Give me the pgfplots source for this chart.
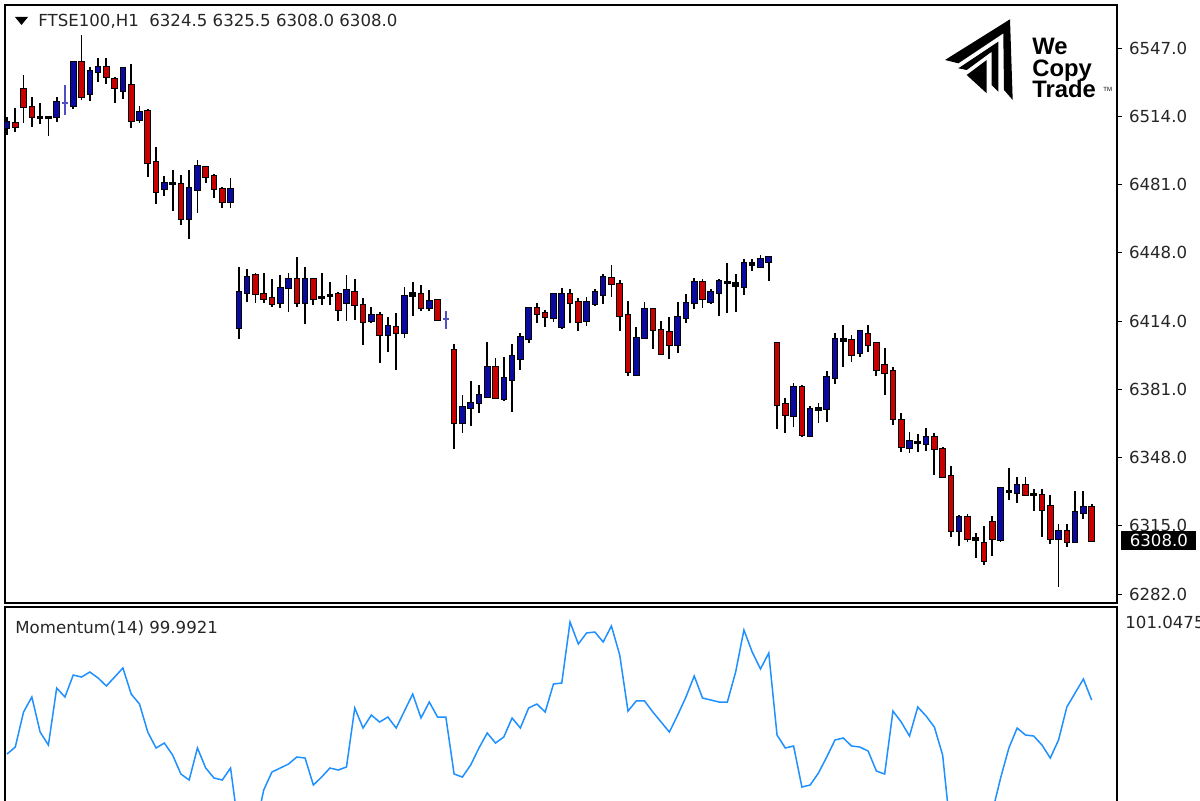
\documentclass[border=0pt]{standalone}
\usepackage{pgfplots}
\usepackage{pgfplotstable}
\pgfplotsset{compat=1.18}
\usepackage{fontspec}
\setmainfont{DejaVu Sans}
\newfontfamily\logofont{Liberation Sans}

\definecolor{bull}{HTML}{0A0AA0}
\definecolor{bear}{HTML}{C80000}
\definecolor{thinbull}{HTML}{5050C0}
\definecolor{mom}{HTML}{1E90FF}

% t: 1 = up candle, 2 = down candle, 0 = doji, 3 = flat up bar
\pgfplotstableread{
i t o h l c
1 1 6508.2 6513.5 6504.8 6511.1
2 2 6510.6 6517.9 6506.2 6508.7
3 2 6527.1 6533.9 6510.6 6518.4
4 2 6518.4 6523.2 6508.7 6513.5
5 0 6513.5 6520.3 6510.1 6513.0
6 0 6513.0 6514.0 6504.3 6513.5
7 1 6513.5 6523.2 6511.1 6520.8
8 3 6520.5 6529.0 6514.5 6520.5
9 1 6518.9 6540.2 6517.4 6540.2
10 2 6540.2 6553.3 6521.8 6523.2
11 1 6524.7 6537.8 6521.3 6535.8
12 1 6535.4 6542.2 6530.5 6537.8
13 2 6537.8 6542.2 6529.5 6532.9
14 2 6532.0 6532.9 6520.3 6527.6
15 1 6526.1 6537.8 6522.3 6537.3
16 2 6529.0 6539.2 6508.2 6511.6
17 1 6512.1 6518.9 6510.6 6516.0
18 2 6516.4 6517.4 6484.4 6491.2
19 2 6491.7 6499.0 6471.3 6477.1
20 1 6478.6 6484.9 6475.2 6481.5
21 0 6481.5 6487.8 6467.9 6481.0
22 2 6481.0 6485.4 6461.1 6464.0
23 1 6464.0 6487.8 6454.3 6479.1
24 1 6478.1 6492.7 6466.9 6489.7
25 2 6489.3 6489.7 6481.5 6484.4
26 2 6484.9 6485.9 6474.2 6478.6
27 2 6478.6 6479.5 6469.4 6472.3
28 1 6472.3 6483.9 6469.4 6478.6
29 1 6411.1 6440.7 6405.8 6428.6
30 1 6428.1 6439.8 6423.7 6435.9
31 2 6436.8 6437.8 6423.3 6427.6
32 2 6427.6 6437.8 6423.3 6425.2
33 2 6425.7 6434.9 6421.3 6422.8
34 1 6423.3 6436.8 6420.8 6430.5
35 1 6430.5 6437.8 6418.9 6434.9
36 2 6434.9 6445.6 6421.3 6423.3
37 1 6423.3 6440.7 6413.1 6434.9
38 2 6434.9 6434.9 6422.3 6425.2
39 0 6426.2 6437.8 6422.3 6425.7
40 0 6427.1 6433.4 6422.3 6426.7
41 2 6427.6 6428.6 6414.5 6419.9
42 1 6423.3 6436.8 6414.5 6429.6
43 2 6428.6 6434.9 6415.0 6422.3
44 2 6422.3 6425.7 6402.9 6414.0
45 1 6414.5 6421.3 6413.5 6417.4
46 2 6417.4 6418.9 6394.1 6407.7
47 1 6407.7 6416.5 6399.5 6412.1
48 2 6411.6 6418.4 6390.7 6408.7
49 1 6408.7 6431.0 6406.3 6426.7
50 0 6426.7 6433.4 6417.0 6428.1
51 2 6427.6 6432.0 6419.4 6420.8
52 1 6420.8 6429.6 6419.4 6424.2
53 2 6424.7 6424.7 6414.5 6415.0
54 3 6415.5 6419.4 6410.6 6415.5
55 2 6400.4 6403.4 6352.4 6365.0
56 1 6365.0 6378.6 6360.2 6372.8
57 1 6372.3 6385.4 6363.6 6374.7
58 1 6374.7 6383.5 6369.9 6378.6
59 1 6377.6 6404.3 6377.2 6392.2
60 2 6392.2 6396.6 6376.7 6377.2
61 1 6376.7 6397.0 6375.7 6386.9
62 1 6385.9 6403.4 6370.4 6397.5
63 1 6396.1 6408.7 6390.7 6406.8
64 1 6405.8 6420.8 6403.8 6420.8
65 2 6420.8 6423.3 6413.5 6417.9
66 2 6418.4 6419.9 6411.6 6416.5
67 1 6416.0 6428.1 6414.0 6427.6
68 1 6411.6 6430.5 6410.6 6427.6
69 2 6427.6 6430.0 6413.5 6423.3
70 2 6423.7 6425.7 6409.7 6414.0
71 1 6414.5 6426.2 6412.1 6423.7
72 1 6422.8 6430.0 6421.8 6428.6
73 1 6427.1 6437.3 6422.8 6435.9
74 2 6435.4 6441.7 6426.2 6432.5
75 2 6432.5 6434.4 6409.7 6417.0
76 2 6417.4 6424.2 6387.8 6389.8
77 1 6388.3 6411.6 6387.8 6406.3
78 1 6406.3 6423.7 6405.8 6420.3
79 2 6420.3 6420.8 6400.9 6410.2
80 2 6410.2 6414.5 6398.0 6398.5
81 2 6409.2 6416.5 6396.1 6402.9
82 1 6402.9 6423.7 6399.0 6416.5
83 1 6416.0 6427.6 6413.5 6423.3
84 1 6423.3 6435.4 6420.3 6433.4
85 2 6433.4 6434.9 6420.8 6425.2
86 1 6423.7 6430.0 6422.8 6428.6
87 1 6428.1 6434.9 6417.0 6433.9
88 0 6433.0 6442.7 6418.4 6433.4
89 0 6431.5 6437.3 6418.9 6433.0
90 1 6431.0 6444.6 6427.1 6442.7
91 0 6441.7 6444.6 6438.8 6442.7
92 1 6440.7 6446.5 6440.7 6444.6
93 1 6443.2 6446.1 6433.9 6445.6
94 2 6403.8 6404.3 6362.1 6373.8
95 2 6374.2 6377.2 6360.2 6368.9
96 1 6368.4 6384.4 6363.1 6382.5
97 2 6382.5 6383.5 6358.2 6359.2
98 1 6358.7 6373.3 6358.7 6371.8
99 0 6371.8 6374.7 6365.0 6372.0
100 1 6371.8 6390.3 6365.5 6387.3
101 1 6386.9 6408.7 6383.9 6405.8
102 0 6405.3 6412.6 6392.2 6405.5
103 2 6405.3 6407.7 6394.6 6398.0
104 1 6399.0 6410.2 6397.0 6409.7
105 2 6408.2 6412.6 6399.5 6402.9
106 2 6403.8 6404.3 6387.8 6390.7
107 2 6393.2 6401.4 6378.6 6389.3
108 2 6390.3 6392.2 6364.1 6367.0
109 2 6366.5 6369.9 6351.0 6353.4
110 1 6352.9 6360.7 6350.5 6356.3
111 0 6355.3 6359.7 6351.0 6355.8
112 1 6354.8 6362.6 6351.4 6358.2
113 2 6358.2 6360.2 6339.8 6352.4
114 2 6352.4 6353.4 6338.3 6338.8
115 2 6339.3 6344.2 6309.7 6312.6
116 1 6312.6 6320.4 6305.3 6319.4
117 2 6319.4 6320.9 6307.3 6308.7
118 0 6308.7 6311.6 6299.5 6308.9
119 2 6306.8 6315.0 6296.1 6298.0
120 2 6317.0 6319.9 6300.5 6308.7
121 1 6308.2 6333.5 6307.3 6333.5
122 0 6331.5 6343.2 6327.7 6332.0
123 1 6331.1 6338.8 6326.2 6334.9
124 2 6334.9 6338.8 6329.6 6330.1
125 0 6330.6 6333.0 6322.3 6330.4
126 2 6330.1 6333.0 6309.7 6322.8
127 2 6324.7 6330.1 6306.3 6308.7
128 1 6308.7 6316.0 6285.4 6312.6
129 2 6312.6 6316.0 6304.8 6307.3
130 1 6307.3 6332.0 6307.3 6321.8
131 1 6321.3 6332.0 6318.4 6324.3
132 2 6324.5 6325.5 6308.0 6308.0
}\candles

\pgfplotstableread{
i m
1 99.261
2 99.356
3 99.830
4 100.033
5 99.559
6 99.383
7 100.154
8 100.033
9 100.330
10 100.303
11 100.371
12 100.290
13 100.182
14 100.303
15 100.425
16 100.073
17 99.938
18 99.559
19 99.343
20 99.410
21 99.248
22 98.991
23 98.910
24 99.343
25 99.072
26 98.937
27 98.910
28 99.072
29 98.233
30 98.098
31 98.233
32 98.774
33 99.018
34 99.072
35 99.126
36 99.221
37 99.207
38 98.842
39 98.950
40 99.072
41 99.045
42 99.086
43 99.884
44 99.613
45 99.789
46 99.694
47 99.762
48 99.613
49 99.843
50 100.073
51 99.749
52 99.965
53 99.762
54 99.762
55 98.991
56 98.950
57 99.113
58 99.343
59 99.546
60 99.410
61 99.492
62 99.749
63 99.613
64 99.884
65 99.938
66 99.830
67 100.209
68 100.222
69 101.048
70 100.750
71 100.899
72 100.912
73 100.777
74 100.993
75 100.601
76 99.843
77 99.979
78 99.979
79 99.830
80 99.694
81 99.559
82 99.789
83 100.033
84 100.317
85 100.019
86 99.992
87 99.965
88 99.965
89 100.371
90 100.939
91 100.642
92 100.412
93 100.628
94 99.519
95 99.343
96 99.370
97 98.815
98 98.842
99 99.004
100 99.221
101 99.451
102 99.478
103 99.370
104 99.356
105 99.302
106 99.031
107 98.991
108 99.843
109 99.694
110 99.505
111 99.897
112 99.776
113 99.627
114 99.248
115 98.165
116 97.962
117 97.827
118 97.895
119 97.962
120 98.477
121 98.937
122 99.343
123 99.613
124 99.519
125 99.505
126 99.383
127 99.207
128 99.451
129 99.897
130 100.087
131 100.276
132 99.992
}\momentum

\pgfplotsset{
  only type/.style={restrict expr to domain={\thisrow{t}}{#1:#1}},
  bars/.style={only marks, mark=*, mark size=0.1pt,
    mark options={opacity=0},
    error bars/y dir=both, error bars/y explicit, error bars/error mark=none,
    error bars/error bar style={#1}},
  panel/.style={scale only axis, width=556pt,
    xmin=0.758, xmax=135.06, xtick=\empty,
    axis line style={line width=0.7pt}},
}

\newcommand{\lbl}{\fontsize{8.3pt}{9.5pt}\selectfont}

\begin{document}
\begin{tikzpicture}
\useasboundingbox (0,0) rectangle (600pt,400pt);
\fill[white] (0,0) rectangle (600pt,400pt);

% price panel
\begin{axis}[panel,
  at={(2.5pt,98.5pt)}, anchor=south west, height=299pt,
  ymin=6277.64, ymax=6567.87,
  ytick={6282,6315.125,6348.25,6381.375,6414.5,6447.625,6480.75,6513.875,6547},
  yticklabels={6282.0,6315.0,6348.0,6381.0,6414.0,6448.0,6481.0,6514.0,6547.0},
  ytick pos=right, yticklabel pos=right, tick align=outside,
  major tick length=2.5pt, tick style={black, line width=0.5pt},
  yticklabel style={font=\lbl, text=black!85},
]
% wicks
\addplot[only type=0, bars={black, line width=0.9pt}]
  table[x=i, y expr=(\thisrow{h}+\thisrow{l})/2,
        y error expr=(\thisrow{h}-\thisrow{l})/2] {\candles};
\addplot[only type=1, bars={black, line width=0.9pt}]
  table[x=i, y expr=(\thisrow{h}+\thisrow{l})/2,
        y error expr=(\thisrow{h}-\thisrow{l})/2] {\candles};
\addplot[only type=2, bars={black, line width=0.9pt}]
  table[x=i, y expr=(\thisrow{h}+\thisrow{l})/2,
        y error expr=(\thisrow{h}-\thisrow{l})/2] {\candles};
% up candles
\addplot[only type=1, bars={black, line width=3.3pt}]
  table[x=i, y expr=(\thisrow{o}+\thisrow{c})/2,
        y error expr=abs(\thisrow{c}-\thisrow{o})/2+0.5] {\candles};
\addplot[only type=1, bars={bull, line width=2.3pt}]
  table[x=i, y expr=(\thisrow{o}+\thisrow{c})/2,
        y error expr=abs(\thisrow{c}-\thisrow{o})/2] {\candles};
% down candles
\addplot[only type=2, bars={black, line width=3.3pt}]
  table[x=i, y expr=(\thisrow{o}+\thisrow{c})/2,
        y error expr=abs(\thisrow{c}-\thisrow{o})/2+0.5] {\candles};
\addplot[only type=2, bars={bear, line width=2.3pt}]
  table[x=i, y expr=(\thisrow{o}+\thisrow{c})/2,
        y error expr=abs(\thisrow{c}-\thisrow{o})/2] {\candles};
% dojis
\addplot[only type=0, bars={black, line width=3.3pt}]
  table[x=i, y expr=(\thisrow{o}+\thisrow{c})/2,
        y error expr={max(abs(\thisrow{c}-\thisrow{o})/2+0.5,0.75)}] {\candles};
% flat bars
\addplot[only type=3, bars={thinbull, line width=0.7pt}]
  table[x=i, y expr=(\thisrow{h}+\thisrow{l})/2,
        y error expr=(\thisrow{h}-\thisrow{l})/2] {\candles};
\addplot[only type=3, bars={thinbull, line width=3pt}]
  table[x=i, y=o, y error expr=0.35] {\candles};
\end{axis}

% momentum panel
\begin{axis}[panel,
  at={(2.5pt,-40pt)}, anchor=south west, height=136.5pt,
  ymin=97.557, ymax=101.2505, ytick=\empty,
]
\addplot[mom, line width=0.75pt] table[x=i, y=m] {\momentum};
\end{axis}

% header texts
\fill[black] (7.5pt,391.5pt) -- (14pt,391.5pt) -- (10.75pt,387.5pt) -- cycle;
\node[anchor=west, inner sep=0pt, font=\lbl, text=black!85] at (19pt,389.5pt)
  {FTSE100,H1\ \ 6324.5 6325.5 6308.0 6308.0};
\node[anchor=west, inner sep=0pt, font=\lbl, text=black!85] at (7.5pt,86pt)
  {Momentum(14) 99.9921};
\node[anchor=west, inner sep=0pt, font=\lbl, text=black!85] at (562.5pt,89pt)
  {101.0475};
\node[anchor=west, fill=black, text=white, font=\lbl, inner sep=0pt,
  minimum width=37.5pt, minimum height=9.5pt] at (560.5pt,129.8pt) {6308.0};

% logo
\fill[black] (472.5pt,370pt) -- (505pt,390.35pt) -- (506.35pt,350pt) -- (502pt,355pt)
  -- (501.65pt,383.35pt) -- (479.15pt,368.35pt) -- cycle;
\fill[black] (479.15pt,365.85pt) -- (499.15pt,379.15pt) -- (499.15pt,354.15pt)
  -- (495.85pt,357.5pt) -- (495.85pt,374.15pt) -- (483.35pt,365pt) -- cycle;
\fill[black] (483.35pt,362.5pt) -- (493.35pt,370pt) -- (493.35pt,353.35pt) -- cycle;
\node[anchor=base west, inner sep=0pt, font=\logofont\bfseries\fontsize{11.9pt}{12pt}\selectfont]
  at (516pt,372.5pt) {We};
\node[anchor=base west, inner sep=0pt, font=\logofont\bfseries\fontsize{11.9pt}{12pt}\selectfont]
  at (516pt,361.5pt) {Copy};
\node[anchor=base west, inner sep=0pt, font=\logofont\bfseries\fontsize{11.9pt}{12pt}\selectfont]
  at (516pt,351pt) {Trade};
\node[anchor=west, inner sep=0pt, font=\logofont\fontsize{3pt}{3pt}\selectfont]
  at (551.5pt,355.5pt) {TM};
\end{tikzpicture}
\end{document}
